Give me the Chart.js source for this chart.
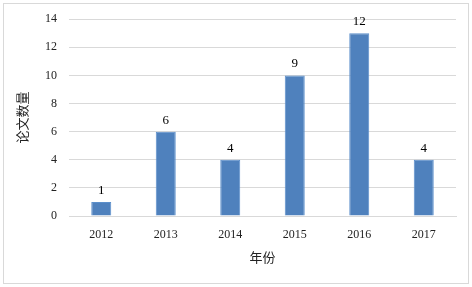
<!DOCTYPE html>
<html>
<head>
<meta charset="utf-8">
<script src="https://cdn.jsdelivr.net/npm/chart.js@4/dist/chart.umd.min.js"></script>
<style>
    html, body { margin: 0; padding: 0; background: #fff; }
    #wrap { width: 472px; height: 287px; position: relative; }
</style>
</head>
<body>
<div id="wrap"><canvas id="chart"></canvas></div>
<script>
    // data
    var years = ['2012', '2013', '2014', '2015', '2016', '2017'];
    var barValues = [1, 6, 4, 10, 13, 4];
    var barLabels = ['1', '6', '4', '9', '12', '4'];
    var yTicks = [0, 2, 4, 6, 8, 10, 12, 14];

    var serif = '"Liberation Serif", "Times New Roman", serif';
    var cjk = '"Liberation Serif", "Noto Sans CJK SC", serif';

    // value labels over each bar
    var valueLabels = {
        id: 'valueLabels',
        afterDatasetsDraw: function (chart) {
            var ctx = chart.ctx;
            var meta = chart.getDatasetMeta(0);
            ctx.save();
            ctx.font = '13px ' + serif;
            ctx.fillStyle = '#000';
            ctx.textAlign = 'center';
            ctx.textBaseline = 'bottom';
            meta.data.forEach(function (bar, i) {
                ctx.fillText(barLabels[i], bar.x, bar.y - 5);
            });
            ctx.restore();
        }
    };

    // thin frame round the whole figure
    var frame = {
        id: 'frame',
        beforeDraw: function (chart) {
            var ctx = chart.ctx;
            ctx.save();
            ctx.strokeStyle = '#d9d9d9';
            ctx.lineWidth = 1;
            ctx.strokeRect(3.5, 3.5, chart.width - 7, chart.height - 7);
            ctx.restore();
        }
    };

    new Chart(document.getElementById('chart').getContext('2d'), {
        type: 'bar',
        data: {
            labels: years,
            datasets: [{
                data: barValues,
                backgroundColor: '#4f81bd',
                borderColor: '#5b8fcb',
                borderWidth: 1,
                categoryPercentage: 1,
                barPercentage: 0.31
            }]
        },
        plugins: [frame, valueLabels],
        options: {
            responsive: true,
            maintainAspectRatio: false,
            animation: false,
            events: [],
            layout: { padding: { left: 8, right: 16, top: 17, bottom: 0 } },
            plugins: {
                legend: { display: false },
                tooltip: { enabled: false }
            },
            scales: {
                x: {
                    grid: { display: false, drawTicks: false },
                    border: { display: true, color: '#d9d9d9', width: 1 },
                    ticks: {
                        color: '#222',
                        font: { family: serif, size: 12 },
                        padding: 12
                    },
                    title: {
                        display: true,
                        text: '年份',
                        color: '#222',
                        font: { family: cjk, size: 13 },
                        padding: { top: 0, bottom: 21 }
                    },
                    afterFit: function (scale) { scale.height = 71; }
                },
                y: {
                    min: 0,
                    max: 14,
                    afterBuildTicks: function (scale) {
                        scale.ticks = yTicks.map(function (v) { return { value: v }; });
                    },
                    grid: { color: '#d9d9d9', drawTicks: false },
                    border: { display: false },
                    ticks: {
                        color: '#222',
                        font: { family: serif, size: 12 },
                        padding: 12
                    },
                    title: {
                        display: true,
                        text: '论文数量',
                        color: '#222',
                        font: { family: cjk, size: 13 },
                        padding: { top: 8, bottom: 0 }
                    },
                    afterFit: function (scale) { scale.width = 61; }
                }
            }
        }
    });
</script>
</body>
</html>
